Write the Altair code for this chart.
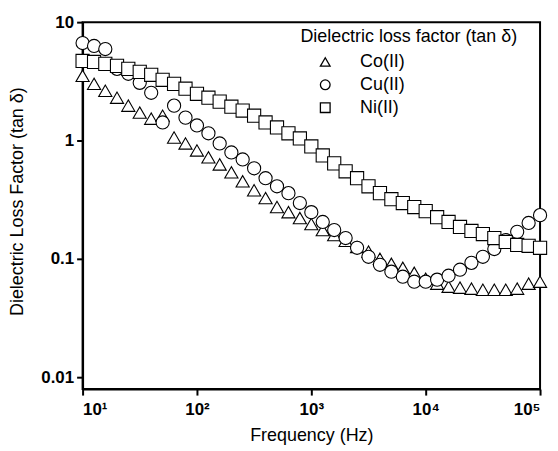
import altair as alt
import pandas as pd

freq = [10, 12.6, 15.8, 20, 25.1, 31.6, 39.8, 50.1, 63.1, 79.4,
        100, 126, 158, 200, 251, 316, 398, 501, 631, 794,
        1000, 1259, 1585, 1995, 2512, 3162, 3981, 5012, 6310, 7943,
        10000, 12589, 15849, 19953, 25119, 31623, 39811, 50119, 63096, 79433,
        100000]

co = [3.52, 3.01, 2.63, 2.30, 1.97, 1.72, 1.53, 1.62, 1.06, 0.944,
      0.824, 0.720, 0.628, 0.538, 0.452, 0.380, 0.326, 0.274, 0.248, 0.221,
      0.197, 0.175, 0.159, 0.142, 0.126, 0.115, 0.100, 0.0908, 0.0840, 0.0762,
      0.0679, 0.0617, 0.0582, 0.0571, 0.0560, 0.0548, 0.0548, 0.0548, 0.0560, 0.0617,
      0.0641]

cu = [6.66, 6.29, 5.93, 4.03, 3.66, 3.07, 2.53, 1.42, 1.97, 1.56,
      1.34, 1.15, 0.944, 0.793, 0.692, 0.582, 0.480, 0.410, 0.359, 0.296,
      0.248, 0.205, 0.175, 0.150, 0.124, 0.104, 0.0891, 0.0778, 0.0706, 0.0641,
      0.0641, 0.0667, 0.0720, 0.0809, 0.0925, 0.104, 0.121, 0.144, 0.169, 0.201,
      0.234]

ni = [4.70, 4.61, 4.44, 4.27, 4.03, 3.80, 3.59, 3.26, 3.01, 2.74,
      2.48, 2.30, 2.13, 1.93, 1.79, 1.62, 1.42, 1.29, 1.15, 1.04,
      0.891, 0.748, 0.641, 0.549, 0.480, 0.410, 0.359, 0.319, 0.296, 0.274,
      0.253, 0.225, 0.205, 0.186, 0.172, 0.162, 0.150, 0.139, 0.131, 0.129,
      0.124]

series_names = ["Co(II)", "Cu(II)", "Ni(II)"]
series_shapes = ["triangle-up", "circle", "square"]

rows = []
for name, vals in zip(series_names, [co, cu, ni]):
    for f, v in zip(freq, vals):
        rows.append({"freq": f, "tan": v, "sample": name})
df = pd.DataFrame(rows)

FONT = "Liberation Sans"

chart = alt.Chart(df).mark_point(
    filled=False, fill="white", fillOpacity=1, stroke="black", strokeWidth=1.1,
    size=175, opacity=1, clip=False
).encode(
    x=alt.X("freq:Q",
            scale=alt.Scale(type="log", domain=[10, 100000], nice=False),
            axis=alt.Axis(values=[10, 100, 1000, 10000, 100000],
                          labelExpr="'10' + ['¹','²','³','⁴','⁵'][round(log(datum.value)/LN10)-1]",
                          title="Frequency (Hz)", grid=False, labelPadding=7,
                          titleY=47, titleBaseline="middle")),
    y=alt.Y("tan:Q",
            scale=alt.Scale(type="log", domain=[0.00793, 10], nice=False),
            axis=alt.Axis(values=[0.01, 0.1, 1, 10], format="~g",
                          title="Dielectric Loss Factor (tan δ)", grid=False,
                          titleX=-65, titleY=180, titleBaseline="middle")),
    shape=alt.Shape("sample:N",
                    scale=alt.Scale(domain=series_names, range=series_shapes),
                    legend=alt.Legend(title="Dielectric loss factor (tan δ)",
                                      orient="none", legendX=219, legendY=6,
                                      symbolSize=95, symbolOffset=16,
                                      symbolStrokeWidth=1.3,
                                      labelOffset=26, rowPadding=5,
                                      titlePadding=7, padding=0,
                                      titleLimit=0, labelLimit=0,
                                      labelFontSize=18, titleFontSize=18,
                                      labelFont=FONT, titleFont=FONT,
                                      titleFontWeight="normal",
                                      labelColor="black", titleColor="black")),
).properties(
    width=460, height=369,
    autosize="none",
    padding={"left": 75, "top": 13, "right": 10, "bottom": 60},
).configure_view(
    stroke="black", strokeWidth=2
).configure_axis(
    domainColor="black", domainWidth=2,
    tickColor="black", tickWidth=2, tickSize=6,
    labelFont=FONT, labelFontSize=17, labelFontWeight="bold", labelColor="black",
    titleFont=FONT, titleFontSize=18, titleFontWeight="normal", titleColor="black",
    labelPadding=3,
)

chart.save("out.html", embed_options={"renderer": "svg", "actions": False})
